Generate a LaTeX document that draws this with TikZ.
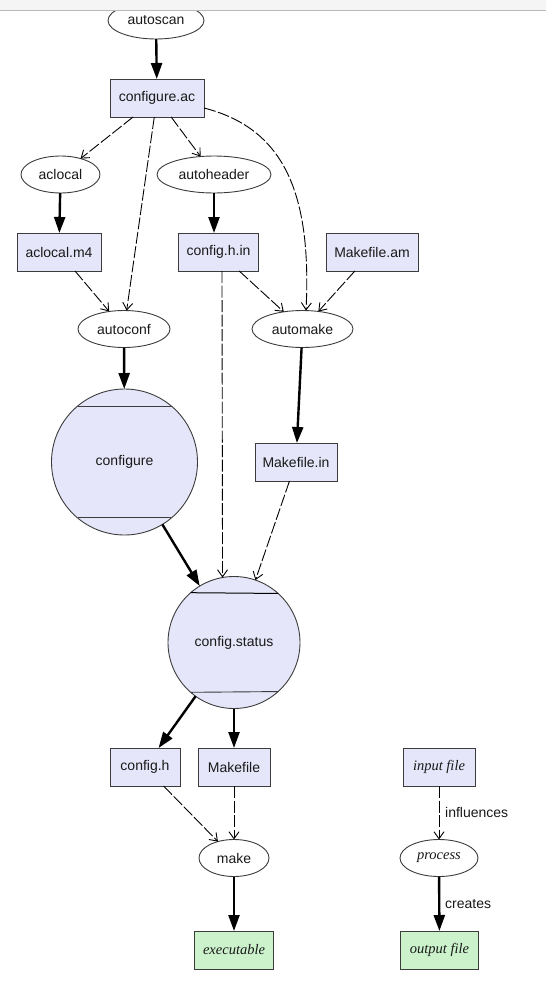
\documentclass[tikz,border=0pt]{standalone}
\usepackage{fontspec}
\setsansfont{Liberation Sans}
\newfontfamily\itserif{Liberation Serif}
\usetikzlibrary{shapes.geometric,arrows.meta,calc}
\definecolor{lav}{RGB}{230,230,250}
\definecolor{mint}{RGB}{204,242,204}
\definecolor{edgegray}{RGB}{60,60,60}
\tikzset{
  base/.style={draw=edgegray,line width=0.9pt,outer sep=0pt,inner sep=2pt,
    font=\sffamily\fontsize{14}{16}\selectfont,text=black!90},
  itfont/.style={font=\itserif\itshape\fontsize{14.5}{16}\selectfont},
  filebox/.style={base,rectangle,fill=lav,minimum height=38pt},
  outbox/.style={base,rectangle,fill=mint,minimum height=38pt,itfont},
  proc/.style={base,ellipse,fill=white,minimum height=37pt},
  bigproc/.style={base,circle,fill=lav},
  strong/.style={line width=2.4pt,-{Triangle[length=16pt,width=11pt]}},
  weak/.style={line width=0.9pt,dash pattern=on 12pt off 2.5pt,
    -{Straight Barb[length=7pt,width=10pt]}},
  lbl/.style={font=\sffamily\fontsize{14}{16}\selectfont,text=black!90,anchor=west,inner sep=0pt}
}
\begin{document}
\begin{tikzpicture}[x=1pt,y=-1pt]
\useasboundingbox (0,0) rectangle (546,988);
% nodes
\node[proc,minimum width=96pt] (autoscan) at (156,20.5) {autoscan};
\node[filebox,minimum width=94pt] (cfgac) at (157,98) {configure.ac};
\node[proc,minimum width=79pt] (aclocal) at (60.5,174.5) {aclocal};
\node[proc,minimum width=114pt] (autoheader) at (214,174.5) {autoheader};
\node[filebox,minimum width=84pt] (aclocalm4) at (59,252) {aclocal.m4};
\node[filebox,minimum width=80pt] (cfghin) at (218.5,252) {config.h.in};
\node[filebox,minimum width=92pt] (mkam) at (372,252) {Makefile.am};
\node[proc,minimum width=92pt] (autoconf) at (124,329) {autoconf};
\node[proc,minimum width=101pt] (automake) at (302.5,329) {automake};
\node[bigproc,minimum size=146pt] (configure) at (124.5,462) {configure};
\node[filebox,minimum width=82pt] (mkin) at (296,462) {Makefile.in};
\node[bigproc,minimum size=132pt] (cfgstatus) at (234,642.5) {config.status};
\node[filebox,minimum width=70pt] (cfgh) at (145,767) {config.h};
\node[filebox,minimum width=72pt] (mkfile) at (234,767) {Makefile};
\node[filebox,minimum width=72pt,itfont] (input) at (439,767) {input file};
\node[proc,minimum width=70pt] (make) at (234,858) {make};
\node[proc,minimum width=78pt,itfont] (process) at (439,858) {process};
\node[outbox,minimum width=79pt] (exec) at (234,950) {executable};
\node[outbox,minimum width=78pt] (output) at (439.5,950) {output file};
% chords of the double circles
\draw[edgegray,line width=0.9pt] (configure.50) -- (configure.130);
\draw[edgegray,line width=0.9pt] (configure.-50) -- (configure.-130);
\draw[black,line width=1pt] (cfgstatus.48.6) -- (cfgstatus.131.4);
\draw[edgegray,line width=0.9pt] (cfgstatus.-48.6) -- (cfgstatus.-131.4);
% edges
\draw[strong] (autoscan) -- (cfgac);
\draw[weak] (cfgac) -- (aclocal);
\draw[weak] (cfgac) -- (autoconf);
\draw[weak] (cfgac) -- (autoheader);
\draw[weak] (cfgac.-12) .. controls (282,128) and (312,190) .. ([xshift=3.5pt]automake.north);
\draw[strong] (aclocal) -- (aclocalm4);
\draw[strong] (autoheader.south) -- (autoheader.south |- cfghin.north);
\draw[weak] (aclocalm4) -- (autoconf);
\draw[weak] (cfghin) -- (automake);
\draw[weak] (mkam) -- (automake);
\draw[weak] ([xshift=3.5pt]cfghin.south) -- (cfgstatus.100.5);
\draw[strong] (autoconf) -- (configure);
\draw[strong] (automake) -- (mkin);
\draw[weak] (mkin) -- (cfgstatus);
\draw[strong] (configure) -- (cfgstatus);
\draw[strong] (cfgstatus) -- (cfgh);
\draw[strong] (cfgstatus) -- (mkfile);
\draw[weak] (cfgh) -- (make);
\draw[weak] (mkfile) -- (make);
\draw[strong] (make) -- (exec);
\draw[weak] (input) -- (process);
\draw[strong] (process) -- (output);
\node[lbl] (linfl) at (445,812) {influences};
\node[lbl] (lcre) at (445,904) {creates};
% header strip of the screenshot
\fill[gray!8] (0,0) rectangle (546,10);
\draw[gray!55,line width=1pt] (0,10.5) -- (546,10.5);
\end{tikzpicture}
\end{document}
